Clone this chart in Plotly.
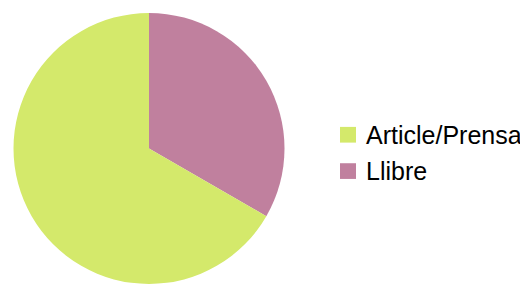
import plotly.graph_objects as go

labels = ["Article/Prensa", "Llibre"]
values = [2, 1]
colors = ["#d4e96b", "#c0809e"]

# page is rendered with an 8px body margin; size the figure to fit the window
OFF = 8
W, H = 528 - OFF, 284 - OFF


def px(x):
    return (x - OFF) / W


def py(y):
    return 1 - (y - OFF) / H


# draw order: Llibre first so it sits at 12→4 o'clock going clockwise
order = [1, 0]
fig = go.Figure(go.Pie(
    labels=[labels[i] for i in order],
    values=[values[i] for i in order],
    marker=dict(colors=[colors[i] for i in order], line=dict(width=0)),
    sort=False,
    direction="clockwise",
    rotation=0,
    textinfo="none",
    hoverinfo="label+value+percent",
    domain=dict(x=[px(12), px(286)], y=[0, 1]),
    showlegend=False,
))

# manual legend (square + label)
leg_x0, sq = 340, 16
leg_y0 = [124, 161]
for lab, col, y0 in zip(labels, colors, leg_y0):
    fig.add_shape(type="rect", xref="paper", yref="paper",
                  x0=px(leg_x0), x1=px(leg_x0 + sq),
                  y0=py(y0 + sq), y1=py(y0),
                  fillcolor=col, line=dict(width=0))
    fig.add_annotation(x=px(365), y=py(y0 + sq / 2),
                       xref="paper", yref="paper", xanchor="left", yanchor="middle",
                       text=lab, showarrow=False, borderpad=0,
                       font=dict(size=25, family="Liberation Sans, Arial, sans-serif", color="#000000"))

fig.update_layout(
    width=W, height=H,
    margin=dict(l=0, r=0, t=5, b=0),
    paper_bgcolor="white",
    plot_bgcolor="white",
    font=dict(family="Liberation Sans, Arial, sans-serif", color="#000000"),
    showlegend=False,
)

fig.write_html("out.html")
